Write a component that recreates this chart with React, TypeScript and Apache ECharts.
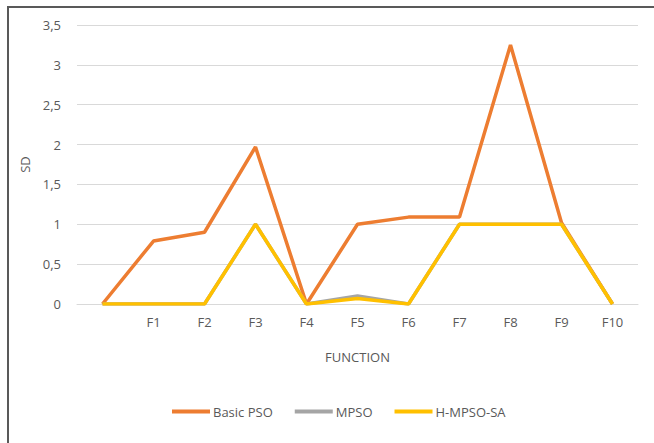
import React, { useEffect, useRef } from "react";
import * as echarts from "echarts";

const categories = ["", "F1", "F2", "F3", "F4", "F5", "F6", "F7", "F8", "F9", "F10"];
const basicPSO = [0, 0.79, 0.9, 1.97, 0, 1.0, 1.09, 1.09, 3.25, 1.02, 0];
const mpso = [0, 0, 0, 1, 0, 0.1, 0, 1, 1, 1, 0];
const hmpsoSA = [0, 0, 0, 1, 0, 0.07, 0, 1, 1, 1, 0];
const yTicks = [0, 0.5, 1, 1.5, 2, 2.5, 3, 3.5];

export default function App() {
  const ref = useRef<HTMLDivElement>(null);
  useEffect(() => {
    const chart = echarts.init(ref.current!, undefined, { renderer: "svg" });
    const font = "'Open Sans', 'Noto Sans', sans-serif";
    const lbl = "#595959";
    chart.setOption({
      animation: false,
      textStyle: { fontFamily: font },
      grid: { left: 77, right: 16, top: 25, bottom: 139, containLabel: false },
      graphic: [
        { type: "line", shape: { x1: 8, y1: 7, x2: 8, y2: 443 }, style: { stroke: "#595959", lineWidth: 2 } },
        { type: "line", shape: { x1: 7, y1: 7, x2: 654, y2: 7 }, style: { stroke: "#595959", lineWidth: 2 } },
      ],
      legend: {
        bottom: 20,
        left: 167,
        itemWidth: 38,
        itemHeight: 4,
        itemGap: 22,
        icon: "rect",
        textStyle: { color: lbl, fontSize: 13, fontFamily: font, padding: [0, 0, 0, -2] },
        data: ["Basic PSO", "MPSO", "H-MPSO-SA"],
      },
      xAxis: {
        type: "category",
        data: categories,
        boundaryGap: true,
        name: "FUNCTION",
        nameLocation: "middle",
        nameGap: 46,
        nameTextStyle: { color: lbl, fontSize: 13, fontFamily: font },
        axisLine: { show: true, lineStyle: { color: "#d9d9d9", width: 1 } },
        axisTick: { show: false },
        axisLabel: { color: lbl, fontSize: 13, margin: 11, fontFamily: font },
      },
      yAxis: {
        type: "value",
        min: 0,
        max: 3.5,
        interval: 0.5,
        name: "SD",
        nameLocation: "middle",
        nameGap: 42,
        nameTextStyle: { color: lbl, fontSize: 13, fontFamily: font },
        axisLine: { show: false },
        axisTick: { show: false },
        splitLine: { lineStyle: { color: "#d9d9d9", width: 1 } },
        axisLabel: {
          color: lbl,
          fontSize: 13,
          margin: 16,
          fontFamily: font,
          formatter: (v: number) => (yTicks.includes(v) ? String(v).replace(".", ",") : ""),
        },
      },
      series: [
        { name: "Basic PSO", type: "line", data: basicPSO, symbol: "none", lineStyle: { color: "#ED7D31", width: 3.5 }, itemStyle: { color: "#ED7D31" }, z: 2 },
        { name: "MPSO", type: "line", data: mpso, symbol: "none", lineStyle: { color: "#A5A5A5", width: 3.5 }, itemStyle: { color: "#A5A5A5" }, z: 3 },
        { name: "H-MPSO-SA", type: "line", data: hmpsoSA, symbol: "none", lineStyle: { color: "#FFC000", width: 3.5 }, itemStyle: { color: "#FFC000" }, z: 4 },
      ],
    });
    return () => chart.dispose();
  }, []);
  return <div ref={ref} style={{ position: "absolute", left: 0, top: 0, width: 654, height: 443 }} />;
}
